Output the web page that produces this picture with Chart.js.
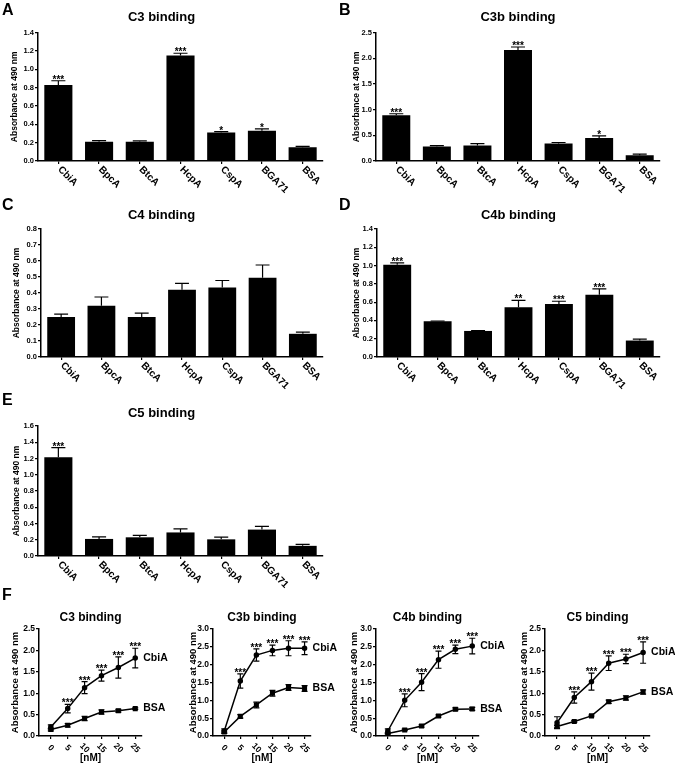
<!DOCTYPE html>
<html>
<head>
<meta charset="utf-8">
<script src="https://cdn.jsdelivr.net/npm/chart.js"></script>
<style>
  body { margin: 0; background: #fff; }
  #fig { position: relative; width: 675px; height: 769px; font-family: "Liberation Sans", Arial, sans-serif; }
  #fig canvas { position: absolute; }
  .lab { position: absolute; font: bold 16px "Liberation Sans", Arial, sans-serif; line-height: 16px; z-index: 2; }
</style>
</head>
<body>
<div id="fig">
  <div class="lab" style="left:2px;top:2px">A</div>
  <div class="lab" style="left:339px;top:2px">B</div>
  <div class="lab" style="left:2px;top:197px">C</div>
  <div class="lab" style="left:339px;top:197px">D</div>
  <div class="lab" style="left:2px;top:392px">E</div>
  <div class="lab" style="left:2px;top:587px">F</div>

  <canvas id="cA" width="333" height="196" style="left:0;top:0"></canvas>
  <canvas id="cB" width="340" height="196" style="left:335px;top:0"></canvas>
  <canvas id="cC" width="333" height="196" style="left:0;top:195px"></canvas>
  <canvas id="cD" width="340" height="196" style="left:335px;top:195px"></canvas>
  <canvas id="cE" width="333" height="199" style="left:0;top:390px"></canvas>

  <canvas id="f1" width="170" height="169" style="left:0;top:600px"></canvas>
  <canvas id="f2" width="170" height="169" style="left:170px;top:600px"></canvas>
  <canvas id="f3" width="172" height="169" style="left:335px;top:600px"></canvas>
  <canvas id="f4" width="170" height="169" style="left:505px;top:600px"></canvas>
</div>
<script>
// ---- data ----
const proteins = ['CbiA', 'BpcA', 'BtcA', 'HcpA', 'CspA', 'BGA71', 'BSA'];

const c3Mean = [0.83, 0.21, 0.21, 1.15, 0.31, 0.33, 0.15];
const c3Err  = [0.045, 0.012, 0.01, 0.025, 0.01, 0.02, 0.01];
const c3Sig  = ['***', '', '', '***', '*', '*', ''];

const c3bMean = [0.89, 0.28, 0.30, 2.16, 0.34, 0.45, 0.11];
const c3bErr  = [0.03, 0.02, 0.04, 0.06, 0.02, 0.04, 0.025];
const c3bSig  = ['***', '', '', '***', '', '*', ''];

const c4Mean = [0.25, 0.32, 0.25, 0.42, 0.435, 0.495, 0.145];
const c4Err  = [0.018, 0.055, 0.024, 0.04, 0.043, 0.08, 0.01];
const c4Sig  = ['', '', '', '', '', '', ''];

const c4bMean = [1.01, 0.39, 0.285, 0.545, 0.58, 0.68, 0.18];
const c4bErr  = [0.02, 0.004, 0.004, 0.075, 0.03, 0.065, 0.015];
const c4bSig  = ['***', '', '', '**', '***', '***', ''];

const c5Mean = [1.215, 0.21, 0.23, 0.29, 0.205, 0.325, 0.125];
const c5Err  = [0.12, 0.025, 0.025, 0.045, 0.028, 0.04, 0.018];
const c5Sig  = ['***', '', '', '', '', '', ''];

// F: titration, nM
const doses = [0, 5, 10, 15, 20, 25];
const doseSig = ['', '***', '***', '***', '***', '***'];

const fC3Cbia    = [0.21, 0.64, 1.13, 1.41, 1.60, 1.82];
const fC3CbiaErr = [0.05, 0.10, 0.14, 0.13, 0.25, 0.23];
const fC3Bsa     = [0.15, 0.25, 0.41, 0.56, 0.59, 0.64];
const fC3BsaErr  = [0.03, 0.04, 0.05, 0.05, 0.03, 0.02];

const fC3bCbia    = [0.14, 1.54, 2.27, 2.40, 2.46, 2.46];
const fC3bCbiaErr = [0.06, 0.20, 0.17, 0.15, 0.21, 0.18];
const fC3bBsa     = [0.11, 0.55, 0.87, 1.20, 1.36, 1.33];
const fC3bBsaErr  = [0.03, 0.05, 0.08, 0.08, 0.08, 0.08];

const fC4bCbia    = [0.14, 1.00, 1.51, 2.14, 2.43, 2.52];
const fC4bCbiaErr = [0.06, 0.18, 0.24, 0.24, 0.12, 0.22];
const fC4bBsa     = [0.07, 0.17, 0.28, 0.56, 0.75, 0.76];
const fC4bBsaErr  = [0.02, 0.02, 0.03, 0.03, 0.04, 0.04];

const fC5Cbia    = [0.31, 0.90, 1.27, 1.70, 1.80, 1.95];
const fC5CbiaErr = [0.14, 0.13, 0.20, 0.17, 0.11, 0.25];
const fC5Bsa     = [0.22, 0.34, 0.47, 0.80, 0.89, 1.03];
const fC5BsaErr  = [0.03, 0.02, 0.02, 0.04, 0.05, 0.05];

const FAM = "'Liberation Sans', Arial, sans-serif";
Chart.defaults.font.family = FAM;
Chart.defaults.font.weight = 'bold';
Chart.defaults.color = '#000';
Chart.defaults.animation = false;

// error bars, stars, end-of-line labels and rotated x labels
const marks = {
  id: 'marks',
  afterDatasetsDraw(chart, args, o) {
    const ctx = chart.ctx, ys = chart.scales.y;
    ctx.save();
    ctx.strokeStyle = '#000';
    ctx.fillStyle = '#000';
    ctx.lineWidth = 1.2;
    chart.data.datasets.forEach((ds, di) => {
      const meta = chart.getDatasetMeta(di);
      meta.data.forEach((el, i) => {
        const d = ds.data[i];
        const v = typeof d === 'object' ? d.y : d;
        const e = ds.errors[i];
        const top = ys.getPixelForValue(v + e);
        const bot = o.both ? ys.getPixelForValue(v - e) : el.y;
        const hw = o.both ? 3 : el.width / 4;
        ctx.beginPath();
        ctx.moveTo(el.x, bot); ctx.lineTo(el.x, top);
        ctx.moveTo(el.x - hw, top); ctx.lineTo(el.x + hw, top);
        if (o.both) { ctx.moveTo(el.x - hw, bot); ctx.lineTo(el.x + hw, bot); }
        ctx.stroke();
        if (ds.stars && ds.stars[i]) {
          ctx.font = 'bold 10px ' + FAM;
          ctx.textAlign = 'center';
          ctx.textBaseline = 'alphabetic';
          ctx.fillText(ds.stars[i], el.x, top + 2);
        }
      });
      if (ds.endLabel) {
        const last = meta.data[meta.data.length - 1];
        ctx.font = 'bold 10.5px ' + FAM;
        ctx.textAlign = 'left';
        ctx.textBaseline = 'middle';
        ctx.fillText(ds.endLabel, last.x + 8, last.y);
      }
    });
    // rotated category / dose labels under the x axis
    const xs = chart.scales.x;
    ctx.font = o.xFont;
    ctx.textBaseline = 'middle';
    ctx.textAlign = o.xAlign;
    o.xLabels.forEach((lab, i) => {
      const px = o.xValues ? xs.getPixelForValue(o.xValues[i]) : xs.getPixelForTick(i);
      ctx.save();
      ctx.translate(px + o.xDx, xs.top + o.xDy);
      ctx.rotate(Math.PI / 4);
      ctx.fillText(lab, 0, 0);
      ctx.restore();
    });
    ctx.restore();
  }
};

const yTitle = 'Absorbance at 490 nm';

function barChart(id, p) {
  new Chart(document.getElementById(id), {
    type: 'bar',
    data: {
      labels: proteins,
      datasets: [{
        data: p.mean, errors: p.err, stars: p.sig,
        backgroundColor: '#000', borderWidth: 0,
        barPercentage: 0.69, categoryPercentage: 1
      }]
    },
    plugins: [marks],
    options: {
      responsive: false,
      layout: { padding: { left: 0, right: p.padR, top: 0, bottom: 0 } },
      plugins: {
        legend: { display: false },
        tooltip: { enabled: false },
        title: {
          display: true, text: p.title, fullSize: p.full,
          font: { size: 13, weight: 'bold' },
          padding: { top: p.tTop, bottom: p.tBot }
        },
        marks: { both: false, xLabels: proteins, xFont: 'bold 10px ' + FAM, xAlign: 'left', xDx: 1, xDy: 7 }
      },
      scales: {
        x: {
          offset: true,
          grid: { display: true, offset: false, drawOnChartArea: false, tickLength: 3, color: '#000', lineWidth: 1.2 },
          border: { color: '#000', width: 1.5 },
          ticks: { display: false },
          afterFit: s => { s.height = p.xH; }
        },
        y: {
          min: 0, max: p.max,
          grid: { drawOnChartArea: false, tickLength: 3, color: '#000', lineWidth: 1.2 },
          border: { color: '#000', width: 1.5 },
          ticks: { stepSize: p.step, padding: 1, font: { size: 7.5 }, callback: v => v.toFixed(1) },
          title: { display: true, text: yTitle, font: { size: 8.5 }, padding: { top: p.yPad, bottom: 0 } },
          afterFit: s => { s.width = p.axisW; }
        }
      }
    }
  });
}

barChart('cA', { mean: c3Mean, err: c3Err, sig: c3Sig, title: 'C3 binding', max: 1.4, step: 0.2,
  padR: 10, full: true, tTop: 10, tBot: 7, xH: 35, axisW: 38, yPad: 10 });
barChart('cB', { mean: c3bMean, err: c3bErr, sig: c3bSig, title: 'C3b binding', max: 2.5, step: 0.5,
  padR: 15, full: false, tTop: 10, tBot: 7, xH: 35, axisW: 41, yPad: 17 });
barChart('cC', { mean: c4Mean, err: c4Err, sig: c4Sig, title: 'C4 binding', max: 0.8, step: 0.1,
  padR: 10, full: true, tTop: 13, tBot: 5.4, xH: 34, axisW: 41, yPad: 12 });
barChart('cD', { mean: c4bMean, err: c4bErr, sig: c4bSig, title: 'C4b binding', max: 1.4, step: 0.2,
  padR: 15, full: false, tTop: 13, tBot: 5.4, xH: 34, axisW: 42, yPad: 17 });
barChart('cE', { mean: c5Mean, err: c5Err, sig: c5Sig, title: 'C5 binding', max: 1.6, step: 0.2,
  padR: 10, full: true, tTop: 15.2, tBot: 5.2, xH: 33, axisW: 38, yPad: 12 });

function doseChart(id, p) {
  const pts = arr => doses.map((d, i) => ({ x: d, y: arr[i] }));
  new Chart(document.getElementById(id), {
    type: 'line',
    data: {
      datasets: [
        { data: pts(p.cbia), errors: p.cbiaErr, stars: doseSig, endLabel: 'CbiA',
          borderColor: '#000', backgroundColor: '#000', borderWidth: 1.5,
          pointStyle: 'circle', pointRadius: 2 },
        { data: pts(p.bsa), errors: p.bsaErr, endLabel: 'BSA',
          borderColor: '#000', backgroundColor: '#000', borderWidth: 1.5,
          pointStyle: 'rect', pointRadius: 2.5 }
      ]
    },
    plugins: [marks],
    options: {
      responsive: false,
      layout: { padding: { left: 0, right: p.padR, top: 0, bottom: 0 } },
      plugins: {
        legend: { display: false },
        tooltip: { enabled: false },
        title: {
          display: true, text: p.title, fullSize: false,
          font: { size: 12, weight: 'bold' },
          padding: { top: 10.8, bottom: 3.8 }
        },
        marks: { both: true, xLabels: doses.map(String), xValues: doses, xFont: 'bold 8.5px ' + FAM, xAlign: 'center', xDx: 0, xDy: 12 }
      },
      scales: {
        x: {
          type: 'linear', min: -3.5, max: 27,
          grid: { drawOnChartArea: false, tickLength: 3, color: '#000', lineWidth: 1.2 },
          border: { color: '#000', width: 1.5 },
          ticks: { display: false, stepSize: 5, includeBounds: false },
          title: { display: true, text: '[nM]', font: { size: 10 }, padding: { top: 0, bottom: 5 } },
          afterFit: s => { s.height = 33; }
        },
        y: {
          min: 0, max: p.max,
          grid: { drawOnChartArea: false, tickLength: 3, color: '#000', lineWidth: 1.2 },
          border: { color: '#000', width: 1.5 },
          ticks: { stepSize: 0.5, padding: 1, font: { size: 8.5 }, callback: v => v.toFixed(1) },
          title: { display: true, text: yTitle, font: { size: 9.5 }, padding: { top: p.yPad, bottom: 0 } },
          afterFit: s => { s.width = p.axisW; }
        }
      }
    }
  });
}

doseChart('f1', { title: 'C3 binding', max: 2.5, cbia: fC3Cbia, cbiaErr: fC3CbiaErr, bsa: fC3Bsa, bsaErr: fC3BsaErr,
  axisW: 39, padR: 28, yPad: 9.3 });
doseChart('f2', { title: 'C3b binding', max: 3.0, cbia: fC3bCbia, cbiaErr: fC3bCbiaErr, bsa: fC3bBsa, bsaErr: fC3bBsaErr,
  axisW: 43, padR: 29, yPad: 17.3 });
doseChart('f3', { title: 'C4b binding', max: 3.0, cbia: fC4bCbia, cbiaErr: fC4bCbiaErr, bsa: fC4bBsa, bsaErr: fC4bBsaErr,
  axisW: 41, padR: 28, yPad: 13.3 });
doseChart('f4', { title: 'C5 binding', max: 2.5, cbia: fC5Cbia, cbiaErr: fC5CbiaErr, bsa: fC5Bsa, bsaErr: fC5BsaErr,
  axisW: 40, padR: 25, yPad: 13.3 });
</script>
</body>
</html>
